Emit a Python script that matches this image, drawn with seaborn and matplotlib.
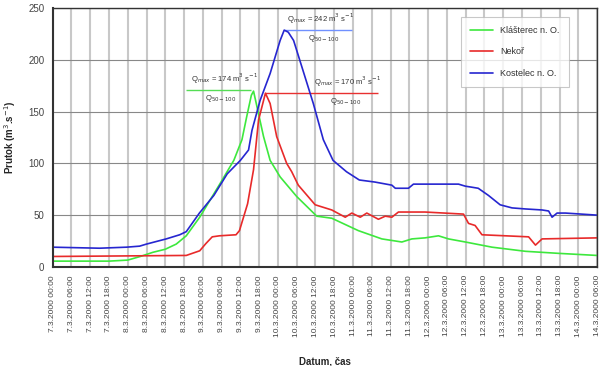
import pandas as pd
import numpy as np
import matplotlib
matplotlib.use("Agg")
import matplotlib.pyplot as plt
import seaborn as sns

# -----------------------------
# Data (hours from 7.3.2000 00:00, flow m3/s)
# -----------------------------
start = pd.Timestamp("2000-03-07 00:00")

klasterec_h = [0, 18, 24, 28, 32, 36, 39.5, 42.7, 47, 53.6, 57.9, 60.5, 62, 63.5, 64.2,
               65.8, 67.4, 69.5, 72.7, 78, 84.4, 89.2, 97.7, 105.2, 111.6, 114.8, 119,
               123.3, 126.5, 131.9, 140.4, 151.1, 161.8, 174]
klasterec_q = [5.5, 5.5, 6.5, 10, 14, 17, 22, 30, 48, 81, 103, 123, 145, 166, 170,
               148, 126, 103, 87, 68, 49, 47, 35, 27, 24, 27, 28,
               30, 27, 24, 19, 15, 13, 11]

nekor_h = [0, 42.7, 47, 49, 51, 53.3, 58.6, 59.7, 62.3, 64.2, 65.8, 68, 69.5, 71.6,
           74.8, 76.4, 78.5, 83.9, 89.2, 93.5, 95.6, 98.3, 100.4, 104.1, 106.3, 108.4,
           110.5, 119, 131.3, 132.9, 135, 137.2, 144.7, 152.1, 154.3, 156.4, 174]
nekor_q = [10, 11, 15.5, 22.6, 29, 30, 31, 35, 61, 94, 142, 168, 158, 126,
           100, 92, 79, 60, 55, 48, 52, 48, 52, 46, 49, 48,
           53, 53, 51, 42, 40, 31, 30, 29, 21, 27, 28]

kostelec_h = [0, 15, 23.6, 27.8, 30, 36.3, 40.6, 42.7, 46.9, 51.5, 55.8, 60, 62.6,
              63.7, 66.3, 69.5, 72.7, 74, 75.3, 77, 80, 83.3, 86.5, 89.6, 93.9, 98,
              103, 108.4, 109.5, 113.7, 115.3, 129.7, 131.9, 134, 136, 139.3, 143,
              146.8, 151, 156.4, 158.5, 159.6, 161.2, 163.9, 174]
kostelec_q = [19, 18, 19, 20, 22, 27, 31, 34, 52, 69, 90, 103, 113,
              132, 161, 187, 219, 229, 227, 219, 190, 158, 123, 103, 92, 84,
              82, 79, 76, 76, 80, 80, 78, 77, 76, 69, 60,
              57, 56, 55, 54, 48, 52, 52, 50]

stations = ["Klášterec n. O.", "Nekoř", "Kostelec n. O."]
colors = ["#3de83d", "#e82a2a", "#2626d0"]

frames = []
for name, hh, qq in [(stations[0], klasterec_h, klasterec_q),
                     (stations[1], nekor_h, nekor_q),
                     (stations[2], kostelec_h, kostelec_q)]:
    frames.append(pd.DataFrame({"time": start + pd.to_timedelta(hh, unit="h"),
                                "flow": qq, "station": name}))
df = pd.concat(frames, ignore_index=True)

# Qmax annotations (green, blue, red)
qmax_labels = ["174", "242", "170"]
qmax_level = [171, 229, 168]
qmax_from = [42.5, 74, 68]
qmax_to = [63.5, 95.8, 104]
qmax_text_h = [54.8, 85.5, 94.3]
q50_text_h = [53.6, 86.5, 93.5]
qmax_colors = ["#55dd55", "#7090ff", "#e83030"]

# -----------------------------
# Plot
# -----------------------------
sns.set_style("white")
plt.rcParams["font.family"] = ["Liberation Sans", "DejaVu Sans"]

fig = plt.figure(figsize=(6.05, 3.66), dpi=100)
ax = fig.add_axes([0.087, 0.271, 0.900, 0.706])

sns.lineplot(data=df, x="time", y="flow", hue="station", palette=colors,
             linewidth=1.2, ax=ax, estimator=None, sort=False)

for i in range(3):
    t0 = start + pd.Timedelta(hours=qmax_from[i])
    t1 = start + pd.Timedelta(hours=qmax_to[i])
    ax.hlines(qmax_level[i], t0, t1, color=qmax_colors[i], linewidth=1.0, zorder=1)
    ax.text(start + pd.Timedelta(hours=qmax_text_h[i]), qmax_level[i] + 4,
            "Q$_{max}$ = " + qmax_labels[i] + " m$^3$ s$^{-1}$", ha="center",
            va="bottom", fontsize=5.5, color="#333333")
    ax.text(start + pd.Timedelta(hours=q50_text_h[i]), qmax_level[i] - 3,
            "Q$_{50-100}$", ha="center", va="top", fontsize=5.5, color="#333333")

end = start + pd.Timedelta(hours=174)
ax.set_xlim(start, end)
ax.set_ylim(0, 250)
ax.set_yticks([0, 50, 100, 150, 200, 250])

ticks = pd.date_range(start, end, freq="6h")
ax.set_xticks(ticks)
ax.set_xticklabels([f"{t.day}.{t.month}.{t.year} {t:%H:%M}" for t in ticks],
                   rotation=90, fontsize=6, color="#444444")
ax.tick_params(axis="y", labelsize=7, labelcolor="#444444")
ax.tick_params(axis="both", direction="inout", length=5, width=1, color="#333333")

ax.grid(axis="x", color="#c8c8c8", linewidth=1.5)
ax.grid(axis="y", color="#888888", linewidth=0.8)
ax.set_axisbelow(True)
for side in ["left", "bottom"]:
    ax.spines[side].set_linewidth(1.5)
    ax.spines[side].set_color("#333333")
for side in ["top", "right"]:
    ax.spines[side].set_linewidth(1.0)
    ax.spines[side].set_color("#333333")

ax.set_xlabel("Datum, čas", fontsize=7, fontweight="bold", labelpad=14)
ax.set_ylabel("Prutok (m$^3$.s$^{-1}$)", fontsize=7, fontweight="bold", labelpad=7)

leg = ax.legend(loc="upper right", bbox_to_anchor=(0.956, 0.985), fontsize=6.5,
                frameon=True, fancybox=False, edgecolor="#bbbbbb",
                handlelength=2.5, labelspacing=1.4, borderpad=1.0)
leg.get_frame().set_linewidth(0.8)
for t in leg.get_texts():
    t.set_color("#333333")

fig.savefig("out.png", dpi=100)
